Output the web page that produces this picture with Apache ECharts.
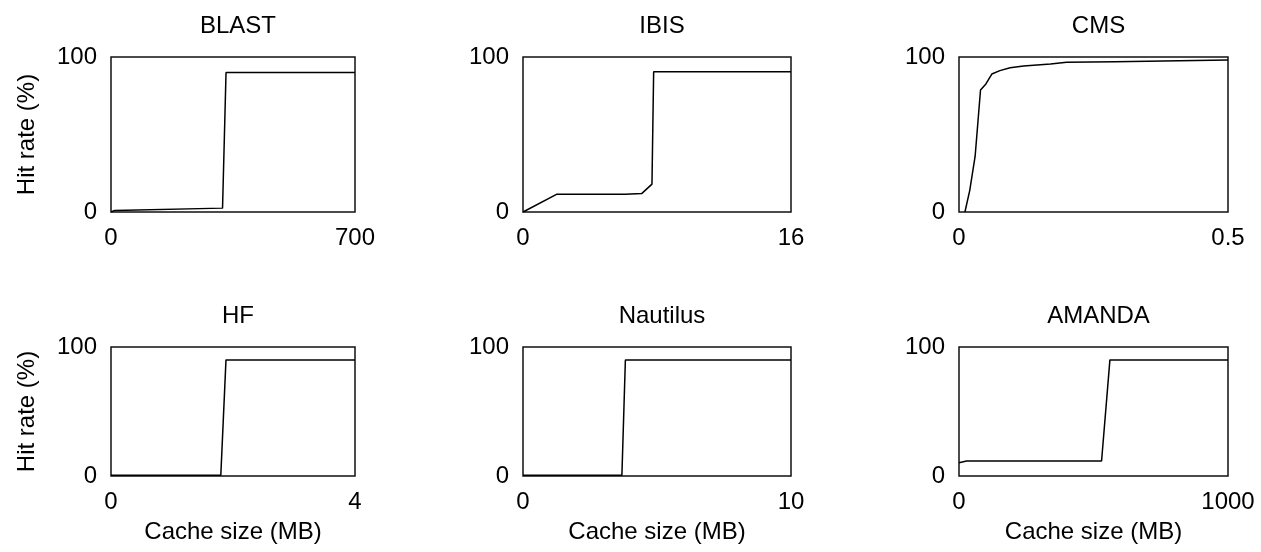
<!DOCTYPE html>
<html>
<head>
<meta charset="utf-8">
<script src="https://cdn.jsdelivr.net/npm/echarts@6/dist/echarts.min.js"></script>
<style>html,body{margin:0;padding:0;background:#fff}#c{width:1261px;height:552px}</style>
</head>
<body>
<div id="c"></div>
<script>
const panelTitles = ["BLAST", "IBIS", "CMS", "HF", "Nautilus", "AMANDA"];
const xMaxes = [700, 16, 0.5, 4, 10, 1000];
const yTickLabels = ["0", "100"];
const xAxisTitle = "Cache size (MB)";
const yAxisTitle = "Hit rate (%)";

const blast = [[0, 0], [10, 1], [320, 2.5], [330, 90], [700, 90]];
const ibis = [[0, 0], [2.0, 11.4], [6.1, 11.4], [7.1, 12], [7.7, 18], [7.8, 90.5], [16, 90.5]];
const cms = [[0.011, 0], [0.020, 14], [0.030, 36], [0.040, 78.7], [0.050, 82.6], [0.061, 89], [0.076, 91.2], [0.095, 93.1], [0.12, 94.2], [0.17, 95.5], [0.2, 96.6], [0.29, 97], [0.5, 98]];
const hf = [[0, 0.5], [1.8, 0.5], [1.885, 90], [4, 90]];
const nautilus = [[0, 0.5], [3.69, 0.5], [3.82, 90], [10, 90]];
const amanda = [[0, 10.3], [28, 11.6], [530, 11.6], [561, 90], [1000, 90]];
const seriesData = [blast, ibis, cms, hf, nautilus, amanda];

const colLeft = [111, 523, 959];
const colWidth = [244, 268, 269];
const rowTop = [57, 347];
const rowHeight = [155, 129];
const FONT = 'Liberation Sans, Arial, sans-serif';
const FS = 24;

const grids = [], xAxes = [], yAxes = [], series = [], titles = [];
for (let i = 0; i < 6; i++) {
  const r = Math.floor(i / 3), c = i % 3;
  grids.push({left: colLeft[c], top: rowTop[r], width: colWidth[c], height: rowHeight[r],
    show: true, borderColor: '#111', borderWidth: 1.5, backgroundColor: 'transparent', containLabel: false});
  xAxes.push({type: 'value', gridIndex: i, min: 0, max: xMaxes[i], interval: xMaxes[i],
    axisLine: {show: false}, axisTick: {show: false}, splitLine: {show: false},
    axisLabel: {color: '#000', fontFamily: FONT, fontSize: FS, margin: 14, showMinLabel: true, showMaxLabel: true,
      formatter: v => String(v)},
    name: r === 1 ? xAxisTitle : '', nameLocation: 'middle', nameGap: 44,
    nameTextStyle: {color: '#000', fontFamily: FONT, fontSize: FS}});
  yAxes.push({type: 'value', gridIndex: i, min: 0, max: 100, interval: 100,
    axisLine: {show: false}, axisTick: {show: false}, splitLine: {show: false},
    axisLabel: {color: '#000', fontFamily: FONT, fontSize: FS, margin: 14,
      formatter: v => yTickLabels[v === 0 ? 0 : 1]},
    name: c === 0 ? yAxisTitle : '', nameLocation: 'middle', nameGap: 72, nameRotate: 90,
    nameTextStyle: {color: '#000', fontFamily: FONT, fontSize: FS}});
  series.push({type: 'line', xAxisIndex: i, yAxisIndex: i, data: seriesData[i],
    symbol: 'none', lineStyle: {color: '#000', width: 1.5}, silent: true, animation: false});
  titles.push({text: panelTitles[i], left: colLeft[c] + colWidth[c] / 2, top: r === 0 ? 9 : 299,
    textAlign: 'center', textStyle: {color: '#000', fontFamily: FONT, fontSize: FS, fontWeight: 'normal'}});
}

const chart = echarts.init(document.getElementById('c'), null, {renderer: 'canvas'});
chart.setOption({backgroundColor: '#fff', animation: false, title: titles,
  grid: grids, xAxis: xAxes, yAxis: yAxes, series: series});
</script>
</body>
</html>
